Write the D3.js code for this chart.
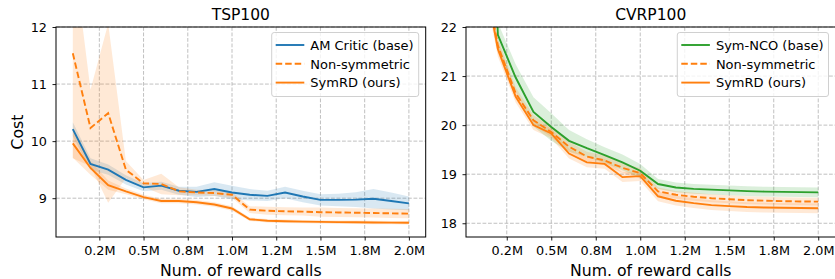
<!DOCTYPE html>
<html>
<head>
<meta charset="utf-8">
<script src="https://cdn.jsdelivr.net/npm/d3@7"></script>
<style>
  body { margin: 0; background: #fff; }
  svg { display: block; font-family: "DejaVu Sans", sans-serif; }
</style>
</head>
<body>
<svg id="chart" width="835" height="279"></svg>
<script>
// ## data (x in millions of reward calls)
var xCalls = [0.1, 0.2, 0.3, 0.4, 0.5, 0.6, 0.7, 0.8, 0.9, 1.0,
              1.1, 1.2, 1.3, 1.4, 1.5, 1.6, 1.7, 1.8, 1.9, 2.0];
var xTicks = [0.25, 0.5, 0.75, 1.0, 1.25, 1.5, 1.75, 2.0];
var xTickLabels = ["0.2M", "0.5M", "0.8M", "1.0M", "1.2M", "1.5M", "1.8M", "2.0M"];

// TSP100
var tspBase     = [10.21, 9.60, 9.50, 9.32, 9.19, 9.22, 9.13, 9.11, 9.16, 9.10,
                   9.06, 9.04, 9.10, 9.03, 8.97, 8.97, 8.975, 8.99, 8.95, 8.91];
var tspBaseStd  = [0.12, 0.10, 0.09, 0.08, 0.07, 0.07, 0.07, 0.09, 0.12, 0.12,
                   0.10, 0.09, 0.10, 0.10, 0.10, 0.11, 0.13, 0.17, 0.15, 0.12];
var tspNonSym   = [11.54, 10.23, 10.49, 9.50, 9.26, 9.25, 9.12, 9.10, 9.09, 9.06,
                   8.80, 8.78, 8.77, 8.765, 8.755, 8.75, 8.745, 8.74, 8.735, 8.73];
var tspNonSymStd = [1.84, 0.67, 1.57, 0.15, 0.06, 0.18, 0.07, 0.05, 0.05, 0.05,
                    0.06, 0.07, 0.07, 0.07, 0.08, 0.08, 0.08, 0.08, 0.08, 0.08];
var tspSymRD    = [9.96, 9.53, 9.23, 9.12, 9.02, 8.95, 8.95, 8.93, 8.89, 8.82,
                   8.63, 8.605, 8.595, 8.59, 8.585, 8.58, 8.578, 8.575, 8.572, 8.57];
var tspSymRDStd = [0.25, 0.12, 0.08, 0.05, 0.04, 0.04, 0.04, 0.04, 0.04, 0.04,
                   0.03, 0.03, 0.03, 0.03, 0.03, 0.03, 0.03, 0.03, 0.03, 0.03];

// CVRP100
var cvrpBase    = [30.0, 21.84, 20.97, 20.27, 19.96, 19.68, 19.53, 19.39, 19.24, 19.07,
                   18.80, 18.73, 18.70, 18.685, 18.67, 18.655, 18.645, 18.64, 18.635, 18.63];
var cvrpBaseStd = [1.0, 0.25, 0.27, 0.30, 0.28, 0.22, 0.18, 0.16, 0.16, 0.14,
                   0.10, 0.10, 0.10, 0.10, 0.10, 0.10, 0.10, 0.10, 0.10, 0.10];
var cvrpNonSym  = [23.6, 21.62, 20.65, 20.10, 19.86, 19.56, 19.36, 19.28, 19.13, 19.02,
                   18.65, 18.58, 18.54, 18.51, 18.49, 18.47, 18.46, 18.45, 18.445, 18.44];
var cvrpNonSymStd = [0.3, 0.15, 0.12, 0.10, 0.10, 0.10, 0.10, 0.10, 0.10, 0.10,
                     0.08, 0.08, 0.08, 0.08, 0.08, 0.08, 0.08, 0.08, 0.08, 0.08];
var cvrpSymRD   = [23.5, 21.55, 20.58, 20.00, 19.83, 19.42, 19.24, 19.21, 18.94, 18.96,
                   18.55, 18.46, 18.41, 18.37, 18.35, 18.33, 18.32, 18.315, 18.31, 18.305];
var cvrpSymRDStd = [0.3, 0.15, 0.12, 0.10, 0.10, 0.10, 0.10, 0.10, 0.10, 0.10,
                    0.10, 0.10, 0.10, 0.10, 0.10, 0.10, 0.10, 0.10, 0.10, 0.10];

var blue = "#1f77b4", orange = "#ff7f0e", green = "#2ca02c";

var svg = d3.select("#chart");

function drawPanel(cfg) {
    var x = d3.scaleLinear().domain(cfg.xDomain).range([cfg.left, cfg.right]);
    var y = d3.scaleLinear().domain(cfg.yDomain).range([237, 27]);
    var g = svg.append("g");

    g.append("clipPath").attr("id", cfg.id + "_clip")
        .append("rect")
        .attr("x", cfg.left).attr("y", 27)
        .attr("width", cfg.right - cfg.left).attr("height", 210);

    //## grid
    var grid = g.append("g").attr("stroke", "#b0b0b0").attr("stroke-width", 0.8)
        .attr("stroke-dasharray", "3.8,1.7");
    grid.selectAll(".gx").data(xTicks).enter().append("line")
        .attr("x1", function(d) { return x(d); }).attr("x2", function(d) { return x(d); })
        .attr("y1", 27).attr("y2", 237);
    grid.selectAll(".gy").data(cfg.yTicks).enter().append("line")
        .attr("y1", function(d) { return y(d); }).attr("y2", function(d) { return y(d); })
        .attr("x1", cfg.left).attr("x2", cfg.right);

    var plot = g.append("g").attr("clip-path", "url(#" + cfg.id + "_clip)");

    var area = d3.area()
        .x(function(d, i) { return x(xCalls[i]); })
        .y0(function(d) { return y(d[0] - d[1]); })
        .y1(function(d) { return y(d[0] + d[1]); });
    var line = d3.line()
        .x(function(d, i) { return x(xCalls[i]); })
        .y(function(d) { return y(d); });

    cfg.series.forEach(function(s) {
        var pairs = s.values.map(function(v, i) { return [v, s.std[i]]; });
        plot.append("path").attr("d", area(pairs))
            .attr("fill", s.color).attr("fill-opacity", 0.17);
    });
    cfg.series.forEach(function(s) {
        plot.append("path").attr("d", line(s.values))
            .attr("fill", "none").attr("stroke", s.color)
            .attr("stroke-width", 1.9)
            .attr("stroke-dasharray", s.dash ? "6.5,3" : null);
    });

    //## axes
    var xAxis = d3.axisBottom(x).tickValues(xTicks)
        .tickFormat(function(d, i) { return xTickLabels[i]; })
        .tickSizeOuter(0).tickSize(3.5).tickPadding(5);
    var gx = g.append("g").attr("transform", "translate(0,237)").call(xAxis);
    var yAxis = d3.axisLeft(y).tickValues(cfg.yTicks).tickFormat(d3.format("d"))
        .tickSizeOuter(0).tickSize(3.5).tickPadding(5.5);
    var gy = g.append("g").attr("transform", "translate(" + cfg.left + ",0)").call(yAxis);
    [gx, gy].forEach(function(a) {
        a.select(".domain").remove();
        a.selectAll("line").attr("stroke", "#000").attr("stroke-width", 0.9);
        a.selectAll("text").attr("font-size", "12.8px").attr("fill", "#000")
            .attr("font-family", "DejaVu Sans");
    });

    g.append("rect").attr("x", cfg.left).attr("y", 27)
        .attr("width", cfg.right - cfg.left).attr("height", 210)
        .attr("fill", "none").attr("stroke", "#000").attr("stroke-width", 1);

    g.append("text").attr("x", (cfg.left + cfg.right) / 2).attr("y", 20)
        .attr("text-anchor", "middle").attr("font-size", "15.5px").text(cfg.title);
    g.append("text").attr("x", (cfg.left + cfg.right) / 2).attr("y", 276)
        .attr("text-anchor", "middle").attr("font-size", "15.7px").text("Num. of reward calls");
    if (cfg.ylabel) {
        g.append("text").attr("transform", "translate(22.5,132) rotate(-90)")
            .attr("text-anchor", "middle").attr("font-size", "15.7px").text(cfg.ylabel);
    }

    //## legend
    var leg = g.append("g");
    var box = leg.append("rect").attr("y", 32.5).attr("height", 64)
        .attr("rx", 2.5).attr("fill", "#fff").attr("fill-opacity", 0.8)
        .attr("stroke", "#d0d0d0").attr("stroke-width", 1);
    var maxW = 0;
    var items = leg.selectAll(".legend").data(cfg.series).enter().append("g")
        .attr("class", "legend");
    items.append("text").attr("x", 38.6).attr("y", 4.7)
        .attr("font-size", "13px").text(function(d) { return d.name; })
        .each(function() { maxW = Math.max(maxW, this.getComputedTextLength()); });
    items.append("line").attr("x1", 4).attr("x2", 32.6).attr("y1", 0).attr("y2", 0)
        .attr("stroke", function(d) { return d.color; }).attr("stroke-width", 1.9)
        .attr("stroke-dasharray", function(d) { return d.dash ? "6.5,3" : null; });
    var boxW = 38.6 + maxW + 5;
    var boxX = cfg.right - 7 - boxW;
    box.attr("x", boxX).attr("width", boxW);
    items.attr("transform", function(d, i) {
        return "translate(" + boxX + "," + (45 + i * 18.8) + ")";
    });
}

drawPanel({
    id: "tsp", title: "TSP100", ylabel: "Cost",
    left: 56, right: 425.7,
    xDomain: [0.005, 2.095], yDomain: [8.32, 12], yTicks: [9, 10, 11, 12],
    series: [
        { name: "AM Critic (base)", color: blue, values: tspBase, std: tspBaseStd },
        { name: "Non-symmetric", color: orange, dash: true, values: tspNonSym, std: tspNonSymStd },
        { name: "SymRD (ours)", color: orange, values: tspSymRD, std: tspSymRDStd }
    ]
});

drawPanel({
    id: "cvrp", title: "CVRP100",
    left: 466, right: 835.5,
    xDomain: [0.021, 2.097], yDomain: [17.72, 22], yTicks: [18, 19, 20, 21, 22],
    series: [
        { name: "Sym-NCO (base)", color: green, values: cvrpBase, std: cvrpBaseStd },
        { name: "Non-symmetric", color: orange, dash: true, values: cvrpNonSym, std: cvrpNonSymStd },
        { name: "SymRD (ours)", color: orange, values: cvrpSymRD, std: cvrpSymRDStd }
    ]
});
</script>
</body>
</html>
